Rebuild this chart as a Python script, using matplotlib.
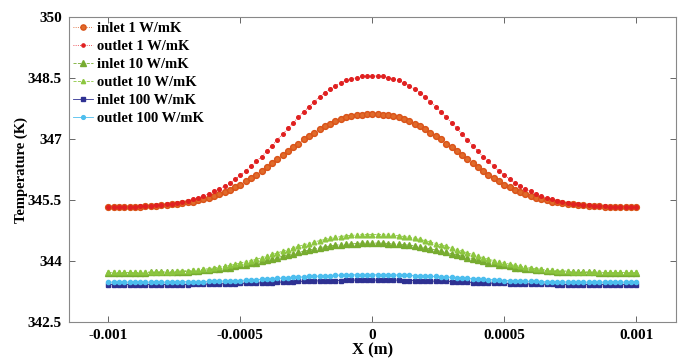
import matplotlib
matplotlib.use("Agg")
import matplotlib.pyplot as plt
import numpy as np

plt.rcParams['font.family'] = ['Liberation Serif', 'DejaVu Serif']
plt.rcParams['font.weight'] = 'bold'

# x grid (m), 101 nodes along the channel
x = np.linspace(-0.001, 0.001, 101)

inlet_1 = [345.33, 345.33, 345.33, 345.34, 345.34, 345.34, 345.34, 345.35, 345.35, 345.36,
           345.37, 345.38, 345.39, 345.40, 345.42, 345.44, 345.46, 345.49, 345.52, 345.56,
           345.60, 345.64, 345.69, 345.75, 345.81, 345.88, 345.96, 346.04, 346.12, 346.21,
           346.30, 346.40, 346.50, 346.60, 346.70, 346.80, 346.89, 346.99, 347.08, 347.16,
           347.24, 347.32, 347.38, 347.44, 347.49, 347.53, 347.56, 347.58, 347.60, 347.61,
           347.61,
           347.61, 347.60, 347.58, 347.56, 347.53, 347.49, 347.44, 347.38, 347.32, 347.24,
           347.16, 347.08, 346.99, 346.89, 346.80, 346.70, 346.60, 346.50, 346.40, 346.30,
           346.21, 346.12, 346.04, 345.96, 345.88, 345.81, 345.75, 345.69, 345.64, 345.60,
           345.56, 345.52, 345.49, 345.46, 345.44, 345.42, 345.40, 345.39, 345.38, 345.37,
           345.36, 345.35, 345.35, 345.34, 345.34, 345.34, 345.34, 345.33, 345.33, 345.33]

outlet_1 = [345.33, 345.33, 345.34, 345.34, 345.34, 345.34, 345.35, 345.35, 345.36, 345.37,
            345.38, 345.39, 345.41, 345.43, 345.45, 345.48, 345.52, 345.55, 345.60, 345.65,
            345.71, 345.77, 345.84, 345.92, 346.01, 346.11, 346.21, 346.33, 346.45, 346.57,
            346.70, 346.84, 346.98, 347.12, 347.26, 347.40, 347.54, 347.67, 347.80, 347.92,
            348.03, 348.14, 348.23, 348.31, 348.38, 348.44, 348.48, 348.51, 348.54, 348.55,
            348.55,
            348.55, 348.54, 348.51, 348.48, 348.44, 348.38, 348.31, 348.23, 348.14, 348.03,
            347.92, 347.80, 347.67, 347.54, 347.40, 347.26, 347.12, 346.98, 346.84, 346.70,
            346.57, 346.45, 346.33, 346.21, 346.11, 346.01, 345.92, 345.84, 345.77, 345.71,
            345.65, 345.60, 345.55, 345.52, 345.48, 345.45, 345.43, 345.41, 345.39, 345.38,
            345.37, 345.36, 345.35, 345.35, 345.34, 345.34, 345.34, 345.34, 345.33, 345.33]

inlet_10 = [343.71, 343.71, 343.71, 343.71, 343.71, 343.71, 343.71, 343.71, 343.72, 343.72,
            343.72, 343.72, 343.73, 343.73, 343.74, 343.74, 343.75, 343.76, 343.77, 343.78,
            343.80, 343.81, 343.83, 343.84, 343.87, 343.89, 343.91, 343.94, 343.96, 343.99,
            344.02, 344.05, 344.08, 344.12, 344.15, 344.18, 344.21, 344.24, 344.27, 344.30,
            344.32, 344.35, 344.37, 344.39, 344.40, 344.41, 344.42, 344.43, 344.44, 344.44,
            344.44,
            344.44, 344.44, 344.43, 344.42, 344.41, 344.40, 344.39, 344.37, 344.35, 344.32,
            344.30, 344.27, 344.24, 344.21, 344.18, 344.15, 344.12, 344.08, 344.05, 344.02,
            343.99, 343.96, 343.94, 343.91, 343.89, 343.87, 343.84, 343.83, 343.81, 343.80,
            343.78, 343.77, 343.76, 343.75, 343.74, 343.74, 343.73, 343.73, 343.72, 343.72,
            343.72, 343.72, 343.71, 343.71, 343.71, 343.71, 343.71, 343.71, 343.71, 343.71]

outlet_10 = [343.72, 343.72, 343.72, 343.72, 343.72, 343.72, 343.72, 343.73, 343.73, 343.73,
             343.74, 343.74, 343.74, 343.75, 343.76, 343.76, 343.77, 343.78, 343.80, 343.81,
             343.83, 343.85, 343.87, 343.89, 343.92, 343.95, 343.98, 344.01, 344.04, 344.08,
             344.12, 344.16, 344.20, 344.24, 344.28, 344.32, 344.36, 344.40, 344.43, 344.47,
             344.50, 344.53, 344.56, 344.58, 344.60, 344.62, 344.63, 344.64, 344.65, 344.65,
             344.65,
             344.65, 344.65, 344.64, 344.63, 344.62, 344.60, 344.58, 344.56, 344.53, 344.50,
             344.47, 344.43, 344.40, 344.36, 344.32, 344.28, 344.24, 344.20, 344.16, 344.12,
             344.08, 344.04, 344.01, 343.98, 343.95, 343.92, 343.89, 343.87, 343.85, 343.83,
             343.81, 343.80, 343.78, 343.77, 343.76, 343.76, 343.75, 343.74, 343.74, 343.74,
             343.73, 343.73, 343.73, 343.72, 343.72, 343.72, 343.72, 343.72, 343.72, 343.72]

inlet_100 = [343.42, 343.42, 343.42, 343.42, 343.42, 343.42, 343.42, 343.42, 343.42, 343.42,
             343.42, 343.42, 343.42, 343.42, 343.42, 343.42, 343.43, 343.43, 343.43, 343.43,
             343.43, 343.44, 343.44, 343.44, 343.44, 343.45, 343.45, 343.45, 343.46, 343.46,
             343.47, 343.47, 343.48, 343.48, 343.49, 343.49, 343.50, 343.50, 343.50, 343.51,
             343.51, 343.52, 343.52, 343.52, 343.52, 343.53, 343.53, 343.53, 343.53, 343.53,
             343.53,
             343.53, 343.53, 343.53, 343.53, 343.53, 343.52, 343.52, 343.52, 343.52, 343.51,
             343.51, 343.50, 343.50, 343.50, 343.49, 343.49, 343.48, 343.48, 343.47, 343.47,
             343.46, 343.46, 343.45, 343.45, 343.45, 343.44, 343.44, 343.44, 343.44, 343.43,
             343.43, 343.43, 343.43, 343.43, 343.42, 343.42, 343.42, 343.42, 343.42, 343.42,
             343.42, 343.42, 343.42, 343.42, 343.42, 343.42, 343.42, 343.42, 343.42, 343.42]

outlet_100 = [343.48, 343.48, 343.48, 343.48, 343.48, 343.48, 343.48, 343.48, 343.48, 343.48,
              343.48, 343.48, 343.48, 343.48, 343.49, 343.49, 343.49, 343.49, 343.49, 343.50,
              343.50, 343.50, 343.51, 343.51, 343.52, 343.52, 343.53, 343.54, 343.54, 343.55,
              343.56, 343.56, 343.57, 343.58, 343.59, 343.60, 343.60, 343.61, 343.62, 343.62,
              343.63, 343.64, 343.64, 343.65, 343.65, 343.65, 343.66, 343.66, 343.66, 343.66,
              343.66,
              343.66, 343.66, 343.66, 343.66, 343.65, 343.65, 343.65, 343.64, 343.64, 343.63,
              343.62, 343.62, 343.61, 343.60, 343.60, 343.59, 343.58, 343.57, 343.56, 343.56,
              343.55, 343.54, 343.54, 343.53, 343.52, 343.52, 343.51, 343.51, 343.50, 343.50,
              343.50, 343.49, 343.49, 343.49, 343.49, 343.49, 343.48, 343.48, 343.48, 343.48,
              343.48, 343.48, 343.48, 343.48, 343.48, 343.48, 343.48, 343.48, 343.48, 343.48]

labels = ['inlet 1 W/mK', 'outlet 1 W/mK', 'inlet 10 W/mK',
          'outlet 10 W/mK', 'inlet 100 W/mK', 'outlet 100 W/mK']
xticks = [-0.001, -0.0005, 0, 0.0005, 0.001]
xtick_labels = ['-0.001', '-0.0005', '0', '0.0005', '0.001']
yticks = [342.5, 344, 345.5, 347, 348.5, 350]
ytick_labels = ['342.5', '344', '345.5', '347', '348.5', '350']

fig = plt.figure(figsize=(6.82, 3.63), dpi=100)
ax = fig.add_axes([0.101, 0.113, 0.89, 0.84])

ax.plot(x, inlet_1, ls=':', lw=0.6, color='#d95319', marker='o', ms=4.2,
        mec='#d95319', mfc='#e06a2a', label=labels[0])
ax.plot(x, outlet_1, ls=':', lw=0.6, color='#e8202a', marker='o', ms=2.6,
        mec='#e02020', mfc='#e02020', label=labels[1])
ax.plot(x, inlet_10, ls='--', lw=0.6, color='#77ac30', marker='^', ms=4.6,
        mec='#77ac30', mfc='#77ac30', label=labels[2])
ax.plot(x, outlet_10, ls='--', lw=0.6, color='#8cc63f', marker='^', ms=3.4,
        mec='#8cc63f', mfc='#8cc63f', label=labels[3])
ax.plot(x, inlet_100, ls='-', lw=0.6, color='#2e3192', marker='s', ms=3.4,
        mec='#2e3192', mfc='#2e3192', label=labels[4])
ax.plot(x, outlet_100, ls='-', lw=0.6, color='#4dbeee', marker='o', ms=3.0,
        mec='#4dbeee', mfc='#4dbeee', label=labels[5])

ax.set_xlim(-0.00115, 0.00115)
ax.set_ylim(342.5, 350)
ax.set_xticks(xticks)
ax.set_xticklabels(xtick_labels)
ax.set_yticks(yticks)
ax.set_yticklabels(ytick_labels)
ax.tick_params(direction='in', length=4, width=0.7, color='#666666',
               labelsize=11, top=True, right=True, pad=5)
for s in ax.spines.values():
    s.set_color('#888888')
    s.set_linewidth(0.8)

ax.set_xlabel('X (m)', fontsize=12, fontweight='bold', labelpad=0)
ax.set_ylabel('Temperature (K)', fontsize=10.5, fontweight='bold', labelpad=0)

leg = ax.legend(loc='upper left', frameon=False, fontsize=10.5,
                handlelength=1.35, handletextpad=0.3, labelspacing=0.33,
                borderaxespad=0.1, borderpad=0.2, markerscale=0.9)
for t in leg.get_texts():
    t.set_fontweight('bold')

fig.savefig('out.png', dpi=100)
